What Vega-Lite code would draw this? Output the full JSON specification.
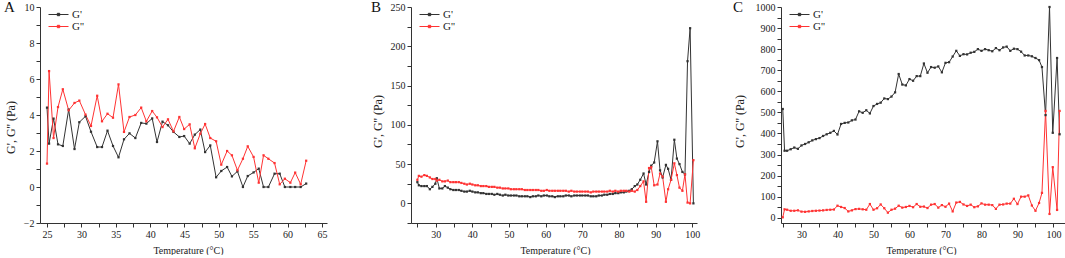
{
"$schema": "https://vega.github.io/schema/vega-lite/v6.json",
"autosize": {"type": "pad"},
"padding": {"left": 4, "top": 0, "right": 0, "bottom": 0},
"background": "white",
"bounds": "flush",
"spacing": 84,
"config": {
  "font": "Liberation Serif",
  "view": {"stroke": null},
  "axis": {"grid": false, "domainColor": "#333", "tickColor": "#333", "tickSize": 4, "labelFontSize": 10, "labelColor": "#222", "labelPadding": 2, "labelOverlap": false, "titleFontWeight": "normal", "titleColor": "#222", "labelFlush": false, "format": "d"},
  "legend": {"orient": "none", "legendX": 13, "legendY": 2, "padding": 0, "title": null, "labelFontSize": 11, "labelColor": "#222", "symbolType": "M-2,0H2M-0.24,-0.24H0.24V0.24H-0.24Z", "symbolSize": 100, "symbolStrokeWidth": 1, "labelOffset": 8, "rowPadding": 0}
},
"datasets": {
"A": [
{"t":25.0,"s":"G'","v":4.41},{"t":25.3,"s":"G'","v":2.41},{"t":25.95,"s":"G'","v":3.8},{"t":26.6,"s":"G'","v":2.37},{"t":27.3,"s":"G'","v":2.28},{"t":28.15,"s":"G'","v":4.3},{"t":29.0,"s":"G'","v":2.11},{"t":29.7,"s":"G'","v":3.6},{"t":30.6,"s":"G'","v":3.93},{"t":31.4,"s":"G'","v":3.07},
{"t":32.3,"s":"G'","v":2.22},{"t":33.0,"s":"G'","v":2.22},{"t":33.8,"s":"G'","v":3.13},{"t":34.6,"s":"G'","v":2.28},{"t":35.4,"s":"G'","v":1.65},{"t":36.2,"s":"G'","v":2.65},{"t":37.0,"s":"G'","v":2.98},{"t":37.85,"s":"G'","v":2.72},{"t":38.7,"s":"G'","v":3.56},{"t":39.45,"s":"G'","v":3.52},
{"t":40.3,"s":"G'","v":3.81},{"t":41.0,"s":"G'","v":2.5},{"t":41.8,"s":"G'","v":3.63},{"t":42.6,"s":"G'","v":3.43},{"t":43.4,"s":"G'","v":3.06},{"t":44.25,"s":"G'","v":2.78},{"t":44.95,"s":"G'","v":2.83},{"t":45.75,"s":"G'","v":2.41},{"t":46.5,"s":"G'","v":2.91},{"t":47.3,"s":"G'","v":3.19},
{"t":48.0,"s":"G'","v":1.94},{"t":48.75,"s":"G'","v":2.31},{"t":49.6,"s":"G'","v":0.54},{"t":50.35,"s":"G'","v":0.89},{"t":51.2,"s":"G'","v":1.11},{"t":51.9,"s":"G'","v":0.59},{"t":52.7,"s":"G'","v":0.87},{"t":53.5,"s":"G'","v":0},{"t":54.2,"s":"G'","v":0.61},{"t":55.05,"s":"G'","v":0.81},
{"t":55.8,"s":"G'","v":1.02},{"t":56.5,"s":"G'","v":0},{"t":57.2,"s":"G'","v":0},{"t":58.1,"s":"G'","v":0.74},{"t":58.85,"s":"G'","v":0.74},{"t":59.6,"s":"G'","v":0},{"t":60.4,"s":"G'","v":0},{"t":61.1,"s":"G'","v":0},{"t":61.9,"s":"G'","v":0},{"t":62.7,"s":"G'","v":0.19},
{"t":25.0,"s":"G''","v":1.3},{"t":25.3,"s":"G''","v":6.44},{"t":25.95,"s":"G''","v":2.72},{"t":26.6,"s":"G''","v":4.44},{"t":27.3,"s":"G''","v":5.43},{"t":28.15,"s":"G''","v":4.26},{"t":29.0,"s":"G''","v":4.67},{"t":29.7,"s":"G''","v":4.8},{"t":30.6,"s":"G''","v":4.02},{"t":31.4,"s":"G''","v":3.39},
{"t":32.3,"s":"G''","v":5.07},{"t":33.0,"s":"G''","v":3.65},{"t":33.8,"s":"G''","v":4.07},{"t":34.6,"s":"G''","v":3.85},{"t":35.4,"s":"G''","v":5.7},{"t":36.2,"s":"G''","v":3.06},{"t":37.0,"s":"G''","v":3.89},{"t":37.85,"s":"G''","v":4.0},{"t":38.7,"s":"G''","v":4.41},{"t":39.45,"s":"G''","v":3.65},
{"t":40.3,"s":"G''","v":4.22},{"t":41.0,"s":"G''","v":3.87},{"t":41.8,"s":"G''","v":3.33},{"t":42.6,"s":"G''","v":3.76},{"t":43.4,"s":"G''","v":3.09},{"t":44.25,"s":"G''","v":3.89},{"t":44.95,"s":"G''","v":3.22},{"t":45.75,"s":"G''","v":3.48},{"t":46.5,"s":"G''","v":2.15},{"t":47.3,"s":"G''","v":2.96},
{"t":48.0,"s":"G''","v":3.5},{"t":48.75,"s":"G''","v":2.72},{"t":49.6,"s":"G''","v":2.54},{"t":50.35,"s":"G''","v":1.24},{"t":51.2,"s":"G''","v":2.0},{"t":51.9,"s":"G''","v":1.76},{"t":52.7,"s":"G''","v":0.93},{"t":53.5,"s":"G''","v":1.57},{"t":54.2,"s":"G''","v":2.26},{"t":55.05,"s":"G''","v":1.67},
{"t":55.8,"s":"G''","v":0.24},{"t":56.5,"s":"G''","v":1.76},{"t":57.2,"s":"G''","v":1.57},{"t":58.1,"s":"G''","v":1.33},{"t":58.85,"s":"G''","v":0.15},{"t":59.6,"s":"G''","v":0.46},{"t":60.4,"s":"G''","v":0.24},{"t":61.1,"s":"G''","v":0.8},{"t":61.9,"s":"G''","v":0.15},{"t":62.7,"s":"G''","v":1.46}
],
"B": [
{"t":25.0,"s":"G'","v":27},{"t":25.4,"s":"G'","v":23},{"t":26.1,"s":"G'","v":22},{"t":26.9,"s":"G'","v":22},{"t":27.6,"s":"G'","v":22},{"t":28.4,"s":"G'","v":18},{"t":29.1,"s":"G'","v":21},{"t":29.9,"s":"G'","v":25},{"t":30.3,"s":"G'","v":32},{"t":31.0,"s":"G'","v":19},
{"t":31.8,"s":"G'","v":19},{"t":32.5,"s":"G'","v":22},{"t":33.3,"s":"G'","v":20},{"t":34.0,"s":"G'","v":18},{"t":34.8,"s":"G'","v":17},{"t":35.5,"s":"G'","v":17},{"t":36.3,"s":"G'","v":17},{"t":37.0,"s":"G'","v":16},{"t":37.8,"s":"G'","v":15},{"t":38.5,"s":"G'","v":15},
{"t":39.3,"s":"G'","v":16},{"t":40.0,"s":"G'","v":15},{"t":40.8,"s":"G'","v":14},{"t":41.5,"s":"G'","v":14},{"t":42.3,"s":"G'","v":13},{"t":43.0,"s":"G'","v":13},{"t":43.8,"s":"G'","v":12},{"t":44.5,"s":"G'","v":12},{"t":45.3,"s":"G'","v":12},{"t":46.0,"s":"G'","v":11},
{"t":46.8,"s":"G'","v":12},{"t":47.5,"s":"G'","v":11},{"t":48.3,"s":"G'","v":10},{"t":49.0,"s":"G'","v":11},{"t":49.8,"s":"G'","v":10},{"t":50.5,"s":"G'","v":10},{"t":51.3,"s":"G'","v":10},{"t":52.0,"s":"G'","v":10},{"t":52.8,"s":"G'","v":9},{"t":53.5,"s":"G'","v":9},
{"t":54.3,"s":"G'","v":9},{"t":55.0,"s":"G'","v":9},{"t":55.8,"s":"G'","v":8},{"t":56.5,"s":"G'","v":9},{"t":57.3,"s":"G'","v":9},{"t":58.0,"s":"G'","v":10},{"t":58.8,"s":"G'","v":9},{"t":59.5,"s":"G'","v":10},{"t":60.3,"s":"G'","v":10},{"t":61.0,"s":"G'","v":9},
{"t":61.8,"s":"G'","v":9},{"t":62.5,"s":"G'","v":8},{"t":63.3,"s":"G'","v":9},{"t":64.0,"s":"G'","v":9},{"t":64.8,"s":"G'","v":9},{"t":65.5,"s":"G'","v":10},{"t":66.3,"s":"G'","v":10},{"t":67.0,"s":"G'","v":9},{"t":67.8,"s":"G'","v":10},{"t":68.5,"s":"G'","v":10},
{"t":69.3,"s":"G'","v":10},{"t":70.0,"s":"G'","v":10},{"t":70.8,"s":"G'","v":10},{"t":71.5,"s":"G'","v":10},{"t":72.3,"s":"G'","v":9},{"t":73.0,"s":"G'","v":9},{"t":73.8,"s":"G'","v":9},{"t":74.5,"s":"G'","v":10},{"t":75.3,"s":"G'","v":10},{"t":76.0,"s":"G'","v":11},
{"t":76.8,"s":"G'","v":11},{"t":77.5,"s":"G'","v":12},{"t":78.3,"s":"G'","v":12},{"t":79.0,"s":"G'","v":13},{"t":79.8,"s":"G'","v":13},{"t":80.5,"s":"G'","v":14},{"t":81.3,"s":"G'","v":14},{"t":82.0,"s":"G'","v":15},{"t":82.8,"s":"G'","v":16},{"t":83.5,"s":"G'","v":18},
{"t":84.3,"s":"G'","v":22},{"t":85.0,"s":"G'","v":24},{"t":85.8,"s":"G'","v":30},{"t":86.7,"s":"G'","v":38},{"t":87.4,"s":"G'","v":24},{"t":88.2,"s":"G'","v":40},{"t":88.8,"s":"G'","v":48},{"t":89.6,"s":"G'","v":52},{"t":90.5,"s":"G'","v":79},{"t":91.2,"s":"G'","v":42},
{"t":91.9,"s":"G'","v":33},{"t":92.8,"s":"G'","v":49},{"t":93.4,"s":"G'","v":44},{"t":94.2,"s":"G'","v":30},{"t":95.1,"s":"G'","v":81},{"t":95.8,"s":"G'","v":57},{"t":96.5,"s":"G'","v":50},{"t":97.3,"s":"G'","v":40},{"t":98.0,"s":"G'","v":37},{"t":98.7,"s":"G'","v":181},
{"t":99.4,"s":"G'","v":223},{"t":100.3,"s":"G'","v":0},
{"t":25.0,"s":"G''","v":30},{"t":25.4,"s":"G''","v":35},{"t":26.1,"s":"G''","v":34},{"t":26.9,"s":"G''","v":36},{"t":27.6,"s":"G''","v":35},{"t":28.4,"s":"G''","v":33},{"t":29.1,"s":"G''","v":31},{"t":29.9,"s":"G''","v":31},{"t":30.3,"s":"G''","v":29},{"t":31.0,"s":"G''","v":30},
{"t":31.8,"s":"G''","v":28},{"t":32.5,"s":"G''","v":28},{"t":33.3,"s":"G''","v":29},{"t":34.0,"s":"G''","v":27},{"t":34.8,"s":"G''","v":27},{"t":35.5,"s":"G''","v":27},{"t":36.3,"s":"G''","v":27},{"t":37.0,"s":"G''","v":26},{"t":37.8,"s":"G''","v":25},{"t":38.5,"s":"G''","v":24},
{"t":39.3,"s":"G''","v":25},{"t":40.0,"s":"G''","v":24},{"t":40.8,"s":"G''","v":23},{"t":41.5,"s":"G''","v":23},{"t":42.3,"s":"G''","v":22},{"t":43.0,"s":"G''","v":22},{"t":43.8,"s":"G''","v":22},{"t":44.5,"s":"G''","v":21},{"t":45.3,"s":"G''","v":21},{"t":46.0,"s":"G''","v":21},
{"t":46.8,"s":"G''","v":20},{"t":47.5,"s":"G''","v":20},{"t":48.3,"s":"G''","v":19},{"t":49.0,"s":"G''","v":19},{"t":49.8,"s":"G''","v":19},{"t":50.5,"s":"G''","v":18},{"t":51.3,"s":"G''","v":18},{"t":52.0,"s":"G''","v":18},{"t":52.8,"s":"G''","v":18},{"t":53.5,"s":"G''","v":18},
{"t":54.3,"s":"G''","v":17},{"t":55.0,"s":"G''","v":17},{"t":55.8,"s":"G''","v":17},{"t":56.5,"s":"G''","v":17},{"t":57.3,"s":"G''","v":17},{"t":58.0,"s":"G''","v":17},{"t":58.8,"s":"G''","v":16},{"t":59.5,"s":"G''","v":16},{"t":60.3,"s":"G''","v":17},{"t":61.0,"s":"G''","v":16},
{"t":61.8,"s":"G''","v":16},{"t":62.5,"s":"G''","v":16},{"t":63.3,"s":"G''","v":16},{"t":64.0,"s":"G''","v":16},{"t":64.8,"s":"G''","v":16},{"t":65.5,"s":"G''","v":16},{"t":66.3,"s":"G''","v":15},{"t":67.0,"s":"G''","v":16},{"t":67.8,"s":"G''","v":15},{"t":68.5,"s":"G''","v":15},
{"t":69.3,"s":"G''","v":15},{"t":70.0,"s":"G''","v":15},{"t":70.8,"s":"G''","v":15},{"t":71.5,"s":"G''","v":15},{"t":72.3,"s":"G''","v":14},{"t":73.0,"s":"G''","v":15},{"t":73.8,"s":"G''","v":15},{"t":74.5,"s":"G''","v":15},{"t":75.3,"s":"G''","v":15},{"t":76.0,"s":"G''","v":15},
{"t":76.8,"s":"G''","v":15},{"t":77.5,"s":"G''","v":16},{"t":78.3,"s":"G''","v":15},{"t":79.0,"s":"G''","v":16},{"t":79.8,"s":"G''","v":15},{"t":80.5,"s":"G''","v":16},{"t":81.3,"s":"G''","v":16},{"t":82.0,"s":"G''","v":16},{"t":82.8,"s":"G''","v":15},{"t":83.5,"s":"G''","v":16},
{"t":84.3,"s":"G''","v":15},{"t":85.0,"s":"G''","v":17},{"t":85.8,"s":"G''","v":22},{"t":86.7,"s":"G''","v":28},{"t":87.4,"s":"G''","v":2},{"t":88.2,"s":"G''","v":45},{"t":88.8,"s":"G''","v":46},{"t":89.6,"s":"G''","v":23},{"t":90.5,"s":"G''","v":24},{"t":91.2,"s":"G''","v":38},
{"t":91.9,"s":"G''","v":34},{"t":92.8,"s":"G''","v":2},{"t":93.4,"s":"G''","v":18},{"t":94.2,"s":"G''","v":30},{"t":95.1,"s":"G''","v":51},{"t":95.8,"s":"G''","v":36},{"t":96.5,"s":"G''","v":20},{"t":97.3,"s":"G''","v":16},{"t":98.0,"s":"G''","v":37},{"t":98.7,"s":"G''","v":1},
{"t":99.4,"s":"G''","v":0},{"t":100.3,"s":"G''","v":55}
],
"C": [
{"t":24.8,"s":"G'","v":516},{"t":25.3,"s":"G'","v":318},{"t":26,"s":"G'","v":318},{"t":27,"s":"G'","v":325},{"t":28,"s":"G'","v":333},{"t":29,"s":"G'","v":327},{"t":30,"s":"G'","v":343},{"t":31,"s":"G'","v":350},{"t":32,"s":"G'","v":358},{"t":33,"s":"G'","v":367},
{"t":34,"s":"G'","v":373},{"t":35,"s":"G'","v":378},{"t":36,"s":"G'","v":388},{"t":37,"s":"G'","v":396},{"t":38,"s":"G'","v":403},{"t":39,"s":"G'","v":412},{"t":40,"s":"G'","v":395},{"t":41,"s":"G'","v":445},{"t":42,"s":"G'","v":450},{"t":43,"s":"G'","v":452},
{"t":44,"s":"G'","v":462},{"t":45,"s":"G'","v":466},{"t":46,"s":"G'","v":505},{"t":47,"s":"G'","v":498},{"t":48,"s":"G'","v":510},{"t":49,"s":"G'","v":495},{"t":50,"s":"G'","v":530},{"t":51,"s":"G'","v":540},{"t":52,"s":"G'","v":546},{"t":53,"s":"G'","v":566},
{"t":54,"s":"G'","v":563},{"t":55,"s":"G'","v":575},{"t":56,"s":"G'","v":595},{"t":57,"s":"G'","v":682},{"t":58,"s":"G'","v":632},{"t":59,"s":"G'","v":628},{"t":60,"s":"G'","v":658},{"t":61,"s":"G'","v":650},{"t":62,"s":"G'","v":672},{"t":63,"s":"G'","v":672},
{"t":64,"s":"G'","v":732},{"t":65,"s":"G'","v":688},{"t":66,"s":"G'","v":715},{"t":67,"s":"G'","v":712},{"t":68,"s":"G'","v":718},{"t":69,"s":"G'","v":690},{"t":70,"s":"G'","v":735},{"t":71,"s":"G'","v":738},{"t":72,"s":"G'","v":765},{"t":73,"s":"G'","v":792},
{"t":74,"s":"G'","v":768},{"t":75,"s":"G'","v":776},{"t":76,"s":"G'","v":775},{"t":77,"s":"G'","v":783},{"t":78,"s":"G'","v":787},{"t":79,"s":"G'","v":800},{"t":80,"s":"G'","v":792},{"t":81,"s":"G'","v":800},{"t":82,"s":"G'","v":795},{"t":83,"s":"G'","v":790},
{"t":84,"s":"G'","v":805},{"t":85,"s":"G'","v":795},{"t":86,"s":"G'","v":808},{"t":87,"s":"G'","v":812},{"t":88,"s":"G'","v":792},{"t":89,"s":"G'","v":802},{"t":90,"s":"G'","v":800},{"t":91,"s":"G'","v":788},{"t":92,"s":"G'","v":770},{"t":93,"s":"G'","v":770},
{"t":94,"s":"G'","v":766},{"t":95,"s":"G'","v":758},{"t":96,"s":"G'","v":748},{"t":96.8,"s":"G'","v":715},{"t":97.8,"s":"G'","v":487},{"t":98.9,"s":"G'","v":1000},{"t":99.8,"s":"G'","v":403},{"t":101.0,"s":"G'","v":758},{"t":101.7,"s":"G'","v":396},
{"t":24.8,"s":"G''","v":2},{"t":25.3,"s":"G''","v":40},{"t":26,"s":"G''","v":38},{"t":27,"s":"G''","v":33},{"t":28,"s":"G''","v":33},{"t":29,"s":"G''","v":35},{"t":30,"s":"G''","v":29},{"t":31,"s":"G''","v":28},{"t":32,"s":"G''","v":30},{"t":33,"s":"G''","v":32},
{"t":34,"s":"G''","v":33},{"t":35,"s":"G''","v":34},{"t":36,"s":"G''","v":35},{"t":37,"s":"G''","v":37},{"t":38,"s":"G''","v":38},{"t":39,"s":"G''","v":39},{"t":40,"s":"G''","v":57},{"t":41,"s":"G''","v":51},{"t":42,"s":"G''","v":46},{"t":43,"s":"G''","v":30},
{"t":44,"s":"G''","v":35},{"t":45,"s":"G''","v":41},{"t":46,"s":"G''","v":42},{"t":47,"s":"G''","v":40},{"t":48,"s":"G''","v":38},{"t":49,"s":"G''","v":65},{"t":50,"s":"G''","v":38},{"t":51,"s":"G''","v":45},{"t":52,"s":"G''","v":63},{"t":53,"s":"G''","v":45},
{"t":54,"s":"G''","v":24},{"t":55,"s":"G''","v":38},{"t":56,"s":"G''","v":43},{"t":57,"s":"G''","v":57},{"t":58,"s":"G''","v":48},{"t":59,"s":"G''","v":51},{"t":60,"s":"G''","v":56},{"t":61,"s":"G''","v":50},{"t":62,"s":"G''","v":65},{"t":63,"s":"G''","v":52},
{"t":64,"s":"G''","v":53},{"t":65,"s":"G''","v":46},{"t":66,"s":"G''","v":62},{"t":67,"s":"G''","v":65},{"t":68,"s":"G''","v":48},{"t":69,"s":"G''","v":60},{"t":70,"s":"G''","v":52},{"t":71,"s":"G''","v":67},{"t":72,"s":"G''","v":30},{"t":73,"s":"G''","v":72},
{"t":74,"s":"G''","v":75},{"t":75,"s":"G''","v":63},{"t":76,"s":"G''","v":56},{"t":77,"s":"G''","v":62},{"t":78,"s":"G''","v":50},{"t":79,"s":"G''","v":54},{"t":80,"s":"G''","v":68},{"t":81,"s":"G''","v":62},{"t":82,"s":"G''","v":62},{"t":83,"s":"G''","v":60},
{"t":84,"s":"G''","v":42},{"t":85,"s":"G''","v":62},{"t":86,"s":"G''","v":63},{"t":87,"s":"G''","v":67},{"t":88,"s":"G''","v":67},{"t":89,"s":"G''","v":90},{"t":90,"s":"G''","v":65},{"t":91,"s":"G''","v":100},{"t":92,"s":"G''","v":100},{"t":93,"s":"G''","v":106},
{"t":94,"s":"G''","v":58},{"t":95,"s":"G''","v":33},{"t":96,"s":"G''","v":70},{"t":96.8,"s":"G''","v":118},{"t":97.8,"s":"G''","v":507},{"t":98.9,"s":"G''","v":18},{"t":99.8,"s":"G''","v":240},{"t":101.0,"s":"G''","v":37},{"t":101.7,"s":"G''","v":507}
]
},
"hconcat": [
{
  "width": 287, "height": 216,
  "data": {"name": "A"},
  "title": {"text": "A", "anchor": "start", "frame": "bounds", "font": "Liberation Serif", "fontSize": 15, "fontWeight": "normal", "color": "#111", "offset": -13},
  "mark": {"type": "line", "strokeWidth": 1, "point": {"shape": "square", "size": 5, "filled": true}},
  "encoding": {
    "x": {"field": "t", "type": "quantitative", "scale": {"domain": [23.98, 65.73], "nice": false, "zero": false},
      "axis": {"title": "Temperature (°C)", "titleFontSize": 10, "titleX": 148, "titleY": 27, "titleBaseline": "middle",
        "values": [25,27.5,30,32.5,35,37.5,40,42.5,45,47.5,50,52.5,55,57.5,60,62.5,65], "labelExpr": "datum.value % 5 === 0 ? datum.label : ''"}},
    "y": {"field": "v", "type": "quantitative", "scale": {"domain": [-2, 10], "nice": false, "zero": false},
      "axis": {"title": "G', G'' (Pa)", "titleFontSize": 12, "titleX": -30, "titleY": 120, "titleBaseline": "middle",
        "values": [-2,-1,0,1,2,3,4,5,6,7,8,9,10], "labelExpr": "datum.value % 2 === 0 ? datum.label : ''"}},
    "color": {"field": "s", "type": "nominal", "scale": {"domain": ["G'", "G''"], "range": ["#333333", "#ff3333"]}}
  }
},
{
  "width": 286, "height": 216,
  "data": {"name": "B"},
  "title": {"text": "B", "anchor": "start", "frame": "bounds", "font": "Liberation Serif", "fontSize": 15, "fontWeight": "normal", "color": "#111", "offset": -13},
  "mark": {"type": "line", "strokeWidth": 1, "point": {"shape": "square", "size": 5, "filled": true}},
  "encoding": {
    "x": {"field": "t", "type": "quantitative", "scale": {"domain": [23.26, 101.28], "nice": false, "zero": false},
      "axis": {"title": "Temperature (°C)", "titleFontSize": 10, "titleX": 144, "titleY": 27, "titleBaseline": "middle",
        "values": [25,30,35,40,45,50,55,60,65,70,75,80,85,90,95,100], "labelExpr": "datum.value % 10 === 0 ? datum.label : ''"}},
    "y": {"field": "v", "type": "quantitative", "scale": {"domain": [-25, 250], "nice": false, "zero": false},
      "axis": {"title": "G', G'' (Pa)", "titleFontSize": 12, "titleX": -34, "titleY": 114, "titleBaseline": "middle",
        "values": [-25,0,25,50,75,100,125,150,175,200,225,250], "labelExpr": "datum.value % 50 === 0 ? datum.label : ''"}},
    "color": {"field": "s", "type": "nominal", "scale": {"domain": ["G'", "G''"], "range": ["#333333", "#ff3333"]}}
  }
},
{
  "width": 284, "height": 216,
  "data": {"name": "C"},
  "title": {"text": "C", "anchor": "start", "frame": "bounds", "font": "Liberation Serif", "fontSize": 15, "fontWeight": "normal", "color": "#111", "offset": -13},
  "mark": {"type": "line", "strokeWidth": 1, "point": {"shape": "square", "size": 5, "filled": true}},
  "encoding": {
    "x": {"field": "t", "type": "quantitative", "scale": {"domain": [24.31, 103.2], "nice": false, "zero": false},
      "axis": {"title": "Temperature (°C)", "titleFontSize": 10, "titleX": 140, "titleY": 27, "titleBaseline": "middle",
        "values": [25,30,35,40,45,50,55,60,65,70,75,80,85,90,95,100], "labelExpr": "datum.value % 10 === 0 ? datum.label : ''"}},
    "y": {"field": "v", "type": "quantitative", "scale": {"domain": [-25, 1000], "nice": false, "zero": false},
      "axis": {"title": "G', G'' (Pa)", "titleFontSize": 12, "titleX": -42, "titleY": 114, "titleBaseline": "middle",
        "values": [0,50,100,150,200,250,300,350,400,450,500,550,600,650,700,750,800,850,900,950,1000], "labelExpr": "datum.value % 100 === 0 ? datum.label : ''"}},
    "color": {"field": "s", "type": "nominal", "scale": {"domain": ["G'", "G''"], "range": ["#333333", "#ff3333"]}}
  }
}
],
"resolve": {"scale": {"color": "independent"}, "legend": {"color": "independent"}}
}
